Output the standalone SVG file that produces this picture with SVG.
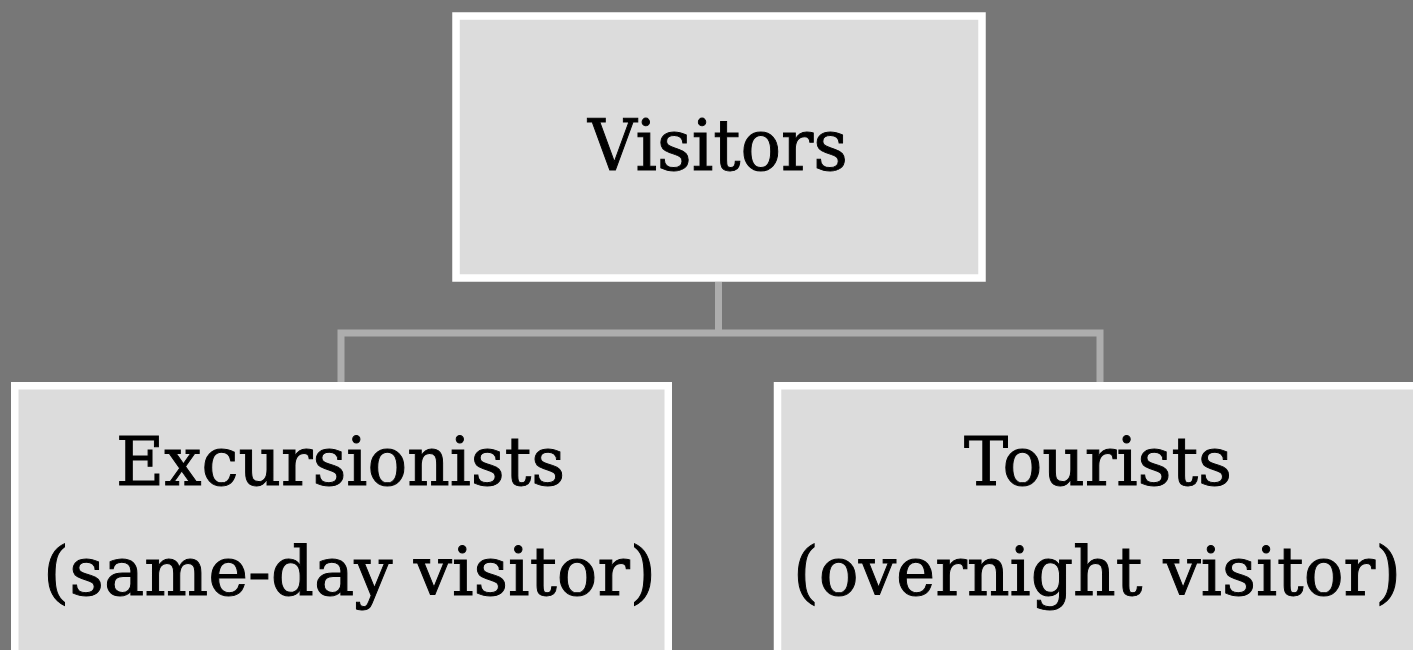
<svg xmlns="http://www.w3.org/2000/svg" width="1413" height="650" viewBox="0 0 1413 650">
  <style>
    .box { fill: #dcdcdc; stroke: #ffffff; stroke-width: 7.5; }
    .lbl { font-family: "DejaVu Serif", "Liberation Serif", serif; fill: #000000; stroke: #000000; stroke-width: 0.9; text-anchor: middle; font-stretch: condensed; }
    .conn { fill: none; stroke: #adadad; stroke-width: 7; }
  </style>
  <rect width="1413" height="650" fill="#777777"/>
  <g id="connectors">
    <path class="conn" d="M718.5 282 V333"/>
    <path class="conn" d="M341 382 V333 H1100 V382"/>
  </g>
  <g id="node-visitors">
    <rect class="box" x="456" y="16" width="526" height="262"/>
    <text class="lbl" x="718" y="170" font-size="71" textLength="260" lengthAdjust="spacingAndGlyphs">Visitors</text>
  </g>
  <g id="node-excursionists">
    <rect class="box" x="14.75" y="385.75" width="653.5" height="270"/>
    <text class="lbl" x="340.5" y="485" font-size="67" textLength="449" lengthAdjust="spacingAndGlyphs">Excursionists</text>
    <text class="lbl" x="349.5" y="595" font-size="67" textLength="613" lengthAdjust="spacingAndGlyphs">(same-day visitor)</text>
  </g>
  <g id="node-tourists">
    <rect class="box" x="777.5" y="385.75" width="653.5" height="270"/>
    <text class="lbl" x="1098" y="485" font-size="67" textLength="268" lengthAdjust="spacingAndGlyphs">Tourists</text>
    <text class="lbl" x="1097" y="595" font-size="67" textLength="608" lengthAdjust="spacingAndGlyphs">(overnight visitor)</text>
  </g>
</svg>
